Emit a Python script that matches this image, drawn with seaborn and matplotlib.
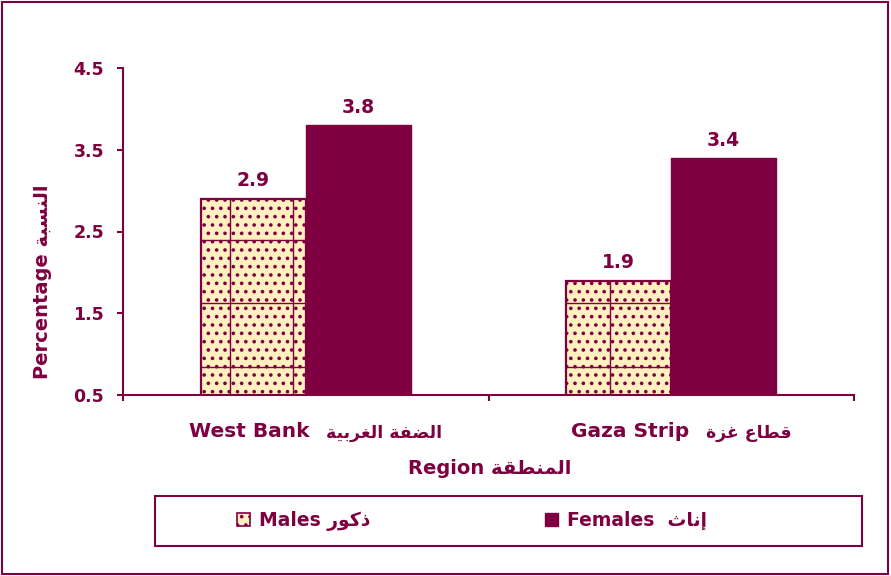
import unicodedata
import numpy as np
import pandas as pd
import matplotlib
matplotlib.use("Agg")
import matplotlib.pyplot as plt
from matplotlib.patches import Patch, Rectangle
from matplotlib.lines import Line2D
from matplotlib.ticker import FormatStrFormatter, FixedLocator
from matplotlib.offsetbox import TextArea, HPacker, AnnotationBbox
import seaborn as sns

# ---------------- data ----------------
regions_en = ["West Bank", "Gaza Strip"]
regions_ar = ["الضفة الغربية", "قطاع غزة"]
sexes_en = ["Males", "Females"]
sexes_ar = ["ذكور", "إناث"]
males = [2.9, 1.9]
females = [3.8, 3.4]
y_ticks = [0.5, 1.5, 2.5, 3.5, 4.5]
y_label_en, y_label_ar = "Percentage", "النسبة"
x_label_en, x_label_ar = "Region", "المنطقة"

# ---------------- minimal Arabic shaping (matplotlib has no shaper) ----------------
AR_FORMS = {  # isolated, final, initial, medial
    "\u0627": (0xFE8D, 0xFE8E, None, None),
    "\u0625": (0xFE87, 0xFE88, None, None),
    "\u0628": (0xFE8F, 0xFE90, 0xFE91, 0xFE92),
    "\u0629": (0xFE93, 0xFE94, None, None),
    "\u062B": (0xFE99, 0xFE9A, 0xFE9B, 0xFE9C),
    "\u0630": (0xFEAB, 0xFEAC, None, None),
    "\u0631": (0xFEAD, 0xFEAE, None, None),
    "\u0632": (0xFEAF, 0xFEB0, None, None),
    "\u0633": (0xFEB1, 0xFEB2, 0xFEB3, 0xFEB4),
    "\u0636": (0xFEBD, 0xFEBE, 0xFEBF, 0xFEC0),
    "\u0637": (0xFEC1, 0xFEC2, 0xFEC3, 0xFEC4),
    "\u0639": (0xFEC9, 0xFECA, 0xFECB, 0xFECC),
    "\u063A": (0xFECD, 0xFECE, 0xFECF, 0xFED0),
    "\u0641": (0xFED1, 0xFED2, 0xFED3, 0xFED4),
    "\u0642": (0xFED5, 0xFED6, 0xFED7, 0xFED8),
    "\u0643": (0xFED9, 0xFEDA, 0xFEDB, 0xFEDC),
    "\u0644": (0xFEDD, 0xFEDE, 0xFEDF, 0xFEE0),
    "\u0645": (0xFEE1, 0xFEE2, 0xFEE3, 0xFEE4),
    "\u0646": (0xFEE5, 0xFEE6, 0xFEE7, 0xFEE8),
    "\u0648": (0xFEED, 0xFEEE, None, None),
    "\u064A": (0xFEF1, 0xFEF2, 0xFEF3, 0xFEF4),
}


def ar(text):
    chars = list(unicodedata.normalize("NFC", text))
    out = []
    for i, c in enumerate(chars):
        if c not in AR_FORMS:
            out.append(c)
            continue
        f = AR_FORMS[c]
        prev = chars[i - 1] if i > 0 else None
        nxt = chars[i + 1] if i + 1 < len(chars) else None
        jp = prev in AR_FORMS and AR_FORMS[prev][2] is not None
        jn = f[2] is not None and nxt in AR_FORMS
        if jp and jn:
            g = f[3]
        elif jp:
            g = f[1]
        elif jn:
            g = f[2]
        else:
            g = f[0]
        out.append(chr(g))
    return "".join(reversed(out))


# ---------------- style ----------------
MAROON = "#7F0040"
CREAM = "#FFF0C0"
sns.set_theme(style="white")
plt.rcParams["font.family"] = ["DejaVu Sans"]
plt.rcParams["font.weight"] = "bold"
plt.rcParams["hatch.linewidth"] = 1.4

df = pd.DataFrame({
    "region": regions_en * 2,
    "sex": [sexes_en[0]] * 2 + [sexes_en[1]] * 2,
    "value": males + females,
})

fig = plt.figure(figsize=(8.91, 5.76), dpi=100)
W, H = 891, 576
ax = fig.add_axes([123 / W, 1 - 395 / H, (854 - 123) / W, (395 - 68) / H])

sns.barplot(data=df, x="region", y="value", hue="sex", order=regions_en,
            hue_order=sexes_en, palette=[CREAM, MAROON], width=0.574,
            gap=0, ax=ax, legend=False, saturation=1)

male_bars = list(ax.containers[0])
for p in male_bars:
    p.set_hatch("..")
    p.set_edgecolor(MAROON)
    p.set_linewidth(1.6)
for p in ax.containers[1]:
    p.set_edgecolor(MAROON)
    p.set_linewidth(1.0)

# value labels
for cont in ax.containers:
    ax.bar_label(cont, fmt="%.1f", padding=6, color=MAROON, fontsize=13.5,
                 fontweight="bold")

ax.set_ylim(0.5, 4.5)
ax.set_xlim(-0.5, 1.5)
ax.yaxis.set_major_locator(FixedLocator(y_ticks))
ax.yaxis.set_major_formatter(FormatStrFormatter("%.1f"))
ax.xaxis.set_minor_locator(FixedLocator([-0.5, 0.5, 1.5]))
centers = [0, 1]
ax.set_xticks(centers)
ax.set_xticklabels(["" for _ in centers])
ax.tick_params(axis="x", which="major", length=0)
ax.tick_params(axis="x", which="minor", length=4.5, width=1.5, color=MAROON,
               direction="out", bottom=True)
ax.tick_params(axis="y", length=4.5, width=1.5, color=MAROON, direction="out",
               left=True, pad=9, labelsize=12.5, labelcolor=MAROON)
for lbl in ax.get_yticklabels():
    lbl.set_fontweight("bold")

# bilingual category labels (English + Arabic), anchored at category centres
for c, en, a in zip(centers, regions_en, regions_ar):
    box = HPacker(children=[
        TextArea(en, textprops=dict(size=14.5, weight="bold", color=MAROON)),
        TextArea(ar(a), textprops=dict(size=12.5, weight="bold", color=MAROON)),
    ], sep=12, align="baseline", pad=0)
    ab = AnnotationBbox(box, (c, 0), xycoords=ax.get_xaxis_transform(),
                        xybox=(7, -26.6), boxcoords="offset points",
                        box_alignment=(0.5, 0.5), frameon=False,
                        annotation_clip=False)
    ax.add_artist(ab)

for s in ["top", "right"]:
    ax.spines[s].set_visible(False)
for s in ["left", "bottom"]:
    ax.spines[s].set_color(MAROON)
    ax.spines[s].set_linewidth(1.5)

ax.set_ylabel(f"{y_label_en} {ar(y_label_ar)}", fontsize=14, fontweight="bold",
              color=MAROON)
ax.yaxis.set_label_coords((52 - 123) / 731, (395 - 282) / 327)
ax.set_xlabel(f"{x_label_en} {ar(x_label_ar)}", fontsize=14, fontweight="bold",
              color=MAROON)
ax.xaxis.set_label_coords((490 - 123) / 731, (395 - 459) / 327)

# coarse grid that is part of the Males fill pattern, clipped to each bar
step = 63.3
for p in male_bars:
    for k in range(-5, 15):
        xv = (230 + k * step) / W
        ln = Line2D([xv, xv], [0, 1], transform=fig.transFigure, color=MAROON,
                    lw=1.0)
        ax.add_line(ln)
        ln.set_clip_path(p.get_path(), p.get_transform())
        yv = 1 - (240 + (k - 5) * step) / H
        ln2 = Line2D([0, 1], [yv, yv], transform=fig.transFigure, color=MAROON,
                     lw=1.0)
        ax.add_line(ln2)
        ln2.set_clip_path(p.get_path(), p.get_transform())

# legend
handles = [Patch(facecolor=CREAM, edgecolor=MAROON, hatch="..", lw=1.2),
           Patch(facecolor=MAROON, edgecolor=MAROON)]
labels = [f"{sexes_en[0]} {ar(sexes_ar[0])}", f"{sexes_en[1]}  {ar(sexes_ar[1])}"]
fig.legend(handles, labels, loc="center", bbox_to_anchor=(472 / W, 1 - 521 / H),
           ncol=2, frameon=False, columnspacing=9.3, handlelength=0.7,
           handleheight=0.7, handletextpad=0.5, labelcolor=MAROON,
           prop={"weight": "bold", "size": 13.5})
fig.patches.append(Rectangle((155 / W, 1 - 546 / H), 707 / W, 50 / H,
                             transform=fig.transFigure, fill=False,
                             edgecolor=MAROON, lw=1.5))
# outer frame
fig.patches.append(Rectangle((2 / W, 2 / H), 886 / W, 572 / H,
                             transform=fig.transFigure, fill=False,
                             edgecolor=MAROON, lw=1.5))

fig.savefig("out.png", dpi=100, facecolor="white")
